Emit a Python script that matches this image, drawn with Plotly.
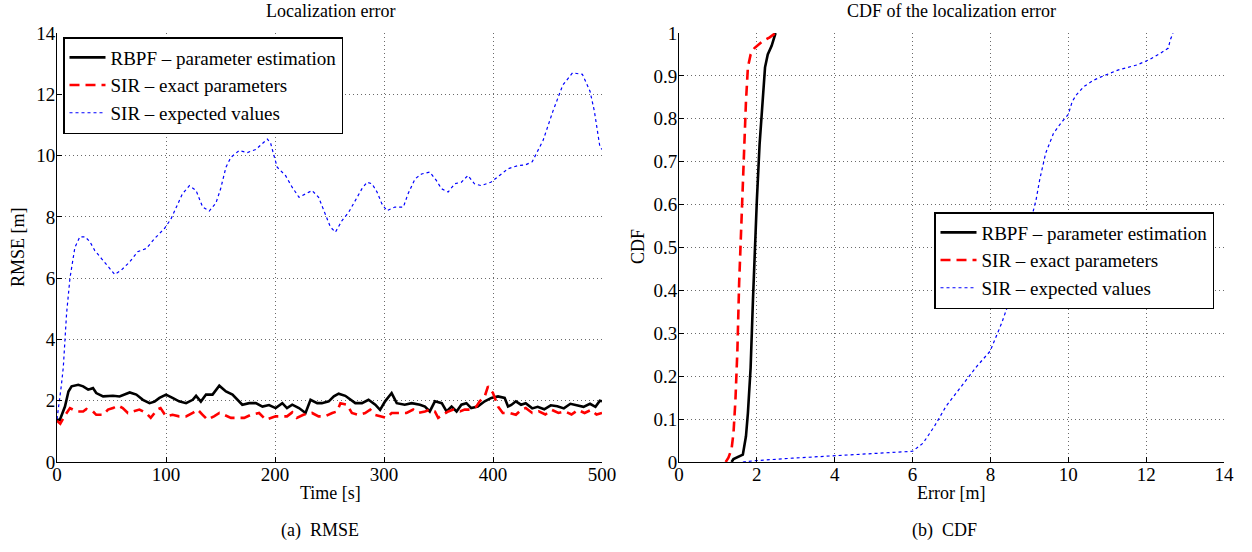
import plotly.graph_objects as go

# ---------------- Data: RMSE over time ----------------
rbpf_t = [0, 2.7, 7.3, 10.5, 13.4, 19.5, 24, 28.6, 33, 36, 42.3, 51.4, 57.4, 66.7, 72.8, 78.8, 84.9, 89.5, 94, 100,
          106, 112, 118.4, 124.5, 127.6, 132, 136.7, 142.7, 148.9, 155, 161, 167, 170, 176.3, 182.4, 188.5, 194.5, 200.6,
          206.7, 211, 215.8, 222, 228, 232.6, 238.7, 243, 249.3, 254, 258.4, 264.5, 269, 273.7, 279.8, 285.8, 292,
          296.4, 301, 307, 311.7, 319, 325.4, 333, 337.6, 342, 346.7, 353, 357.4, 362, 366.6, 371, 375.6, 380, 386,
          392.4, 398.5, 404.6, 410.7, 413.8, 416.8, 421, 425.7, 430, 436, 441, 447, 453, 459, 465, 471, 477, 483, 489,
          494, 498, 500]
rbpf_v = [1.38, 1.38, 1.81, 2.3, 2.47, 2.52, 2.47, 2.36, 2.41, 2.25, 2.14, 2.16, 2.14, 2.27, 2.2, 2.03, 1.92, 1.97, 2.09, 2.2,
          2.09, 1.98, 1.92, 2.03, 2.16, 1.97, 2.2, 2.2, 2.49, 2.3, 2.2, 1.98, 1.87, 1.92, 1.92, 1.81, 1.86, 1.76,
          1.92, 1.76, 1.87, 1.76, 1.6, 2.03, 1.92, 1.92, 1.98, 2.14, 2.23, 2.16, 2.03, 1.92, 1.92, 2.03, 1.87,
          1.7, 1.98, 2.25, 1.92, 1.87, 1.92, 1.87, 1.81, 1.65, 1.98, 1.92, 1.65, 1.81, 1.65, 1.87, 1.92, 1.76, 1.81,
          1.98, 2.09, 2.14, 2.09, 1.81, 1.86, 1.98, 1.87, 1.92, 1.75, 1.8, 1.72, 1.85, 1.82, 1.75, 1.9, 1.85, 1.8, 1.9,
          1.8, 2.0, 1.98]

sir_exact_t = [0, 3, 7, 11.9, 18, 24, 27, 33, 36, 42.3, 46.8, 51.4, 56, 60.3, 65, 69.5, 75.6, 81.7, 86, 92, 95, 100,
               106, 112, 118.4, 124.5, 129, 133.6, 138, 144, 149, 153.4, 159.6, 165.6, 171.7, 177.8, 185.4, 191.5, 196,
               200.6, 206.7, 211, 215.8, 220, 226, 234, 240, 246, 252.5, 257, 260, 266, 270.5, 276.6, 282.7, 287.3,
               291.8, 298, 302.6, 307, 313, 320.7, 326.8, 331.3, 337.6, 342, 346.7, 349.7, 354, 359, 363.6, 369.7, 374,
               378.7, 384.8, 387.8, 392.4, 395.4, 400, 404.6, 409, 415, 421, 426, 430, 436, 442, 448, 454, 460, 466,
               472, 478, 484, 490, 495, 500]
sir_exact_v = [1.35, 1.25, 1.5, 1.76, 1.65, 1.65, 1.73, 1.65, 1.54, 1.54, 1.71, 1.76, 1.84, 1.76, 1.6, 1.65, 1.71, 1.6,
               1.44, 1.71, 1.76, 1.49, 1.54, 1.49, 1.49, 1.6, 1.71, 1.54, 1.38, 1.49, 1.6, 1.54, 1.44, 1.44, 1.44, 1.54,
               1.6, 1.38, 1.44, 1.49, 1.49, 1.49, 1.62, 1.44, 1.54, 1.6, 1.49, 1.49, 1.6, 1.65, 1.92, 1.87, 1.6, 1.54,
               1.6, 1.71, 1.54, 1.49, 1.44, 1.6, 1.6, 1.6, 1.71, 1.6, 1.65, 1.71, 1.65, 1.44, 1.54, 1.65, 1.71, 1.65,
               1.71, 1.71, 1.81, 1.98, 2.14, 2.47, 2.25, 1.81, 1.6, 1.6, 1.54, 1.71, 1.76, 1.6, 1.65, 1.55, 1.7, 1.6,
               1.65, 1.55, 1.7, 1.6, 1.7, 1.55, 1.6]

sir_exp_t = [0, 2, 4, 5.8, 8.8, 11.9, 16.4, 21, 25.6, 30, 34.7, 40.8, 46.8, 53, 59, 66.7, 74, 82, 89.5, 98.6, 104.7,
             109, 115, 121.5, 127.6, 133.6, 139.7, 145.8, 150, 155, 159.5, 167, 174.7, 182.4, 188.5, 193, 196, 199, 202,
             209.6, 215.7, 222, 228, 234, 240, 246, 250.8, 255.4, 261.5, 267.6, 273.7, 279.8, 284.4, 289, 293.6, 298,
             302.6, 310, 317.8, 322, 328.5, 334.5, 342, 348, 352.7, 358.8, 365, 371, 377, 383, 389, 398, 406, 413.7,
             422.8, 430, 436, 446, 455, 464, 473, 482, 489, 493, 498, 500]
sir_exp_v = [1.4, 1.9, 2.5, 3.1, 4.85, 6.0, 7.0, 7.35, 7.35, 7.2, 6.9, 6.64, 6.37, 6.12, 6.26, 6.53, 6.86, 6.97, 7.29,
             7.62, 7.94, 8.27, 8.75, 9.02, 8.86, 8.32, 8.19, 8.45, 8.9, 9.62, 9.94, 10.16, 10.1, 10.2, 10.38, 10.54,
             10.4, 10.05, 9.62, 9.35, 8.97, 8.64, 8.75, 8.86, 8.64, 8.1, 7.67, 7.5, 7.88, 8.15, 8.54, 8.92, 9.13, 9.08,
             8.81, 8.43, 8.2, 8.32, 8.32, 8.75, 9.24, 9.4, 9.46, 9.19, 8.92, 8.81, 9.08, 9.13, 9.35, 9.08, 9.02, 9.13,
             9.35, 9.57, 9.67, 9.7, 9.8, 10.5, 11.45, 12.3, 12.7, 12.65, 12.1, 11.45, 10.3, 10.2]

# ---------------- Data: CDF of the error ----------------
rbpf_cdf_x = [1.35, 1.4, 1.64, 1.72, 1.77, 1.84, 1.9, 1.94, 2.0, 2.07, 2.12, 2.16, 2.21, 2.28, 2.38, 2.48]
rbpf_cdf_y = [0.0, 0.007, 0.017, 0.06, 0.114, 0.22, 0.378, 0.49, 0.61, 0.74, 0.8, 0.85, 0.92, 0.95, 0.97, 1.0]

exact_cdf_x = [1.2, 1.27, 1.35, 1.4, 1.45, 1.5, 1.545, 1.59, 1.62, 1.66, 1.72, 1.77, 1.84, 1.94, 2.14, 2.33, 2.48]
exact_cdf_y = [0.0, 0.01, 0.03, 0.068, 0.145, 0.26, 0.417, 0.533, 0.61, 0.73, 0.84, 0.92, 0.95, 0.965, 0.98, 0.99, 1.0]

exp_cdf_x = [1.64, 1.94, 2.92, 4.0, 4.9, 6.0, 6.27, 6.56, 6.86, 7.25, 7.65, 7.99, 8.19, 8.29, 8.44, 8.63, 8.85, 9.0,
             9.17, 9.27, 9.42, 9.62, 9.81, 10.0, 10.1, 10.2, 10.4, 10.65, 10.9, 11.29, 11.78, 12.08, 12.37, 12.57,
             12.62, 12.69]
exp_cdf_y = [0.0, 0.003, 0.009, 0.015, 0.019, 0.025, 0.044, 0.083, 0.13, 0.176, 0.223, 0.258, 0.3, 0.324, 0.363, 0.41,
             0.48, 0.55, 0.61, 0.66, 0.72, 0.766, 0.79, 0.81, 0.84, 0.855, 0.875, 0.89, 0.9, 0.914, 0.926, 0.938,
             0.953, 0.965, 0.984, 1.0]

names = ["RBPF – parameter estimation", "SIR – exact parameters", "SIR – expected values"]

W, H = 1252, 552
FONT = "Liberation Serif"

def px_x(p):
    return p / W

def px_y(p):
    return 1 - p / H

styles = [dict(color="black", width=2.6, dash="solid"),
          dict(color="#ff0000", width=2.6, dash="10px,6px"),
          dict(color="#0000ff", width=1.2, dash="dot")]

fig = go.Figure()
left = [(rbpf_t, rbpf_v), (sir_exact_t, sir_exact_v), (sir_exp_t, sir_exp_v)]
right = [(rbpf_cdf_x, rbpf_cdf_y), (exact_cdf_x, exact_cdf_y), (exp_cdf_x, exp_cdf_y)]

for (x, y), nm, st in zip(left, names, styles):
    fig.add_trace(go.Scatter(x=x, y=y, mode="lines", name=nm, line=st,
                             xaxis="x", yaxis="y", legend="legend"))
for (x, y), nm, st in zip(right, names, styles):
    fig.add_trace(go.Scatter(x=x, y=y, mode="lines", name=nm, line=st,
                             xaxis="x2", yaxis="y2", legend="legend2"))

axis_common = dict(showline=True, linecolor="black", linewidth=1, ticks="inside", ticklen=5,
                   tickcolor="black", showgrid=True, gridcolor="#6a6a6a", griddash="1px,3px", gridwidth=1,
                   zeroline=False, tickfont=dict(family=FONT, size=19, color="black"), mirror=False,
                   automargin=False)

ydom = [px_y(462), px_y(33)]
fig.update_layout(
    template="none",
    width=W, height=H, autosize=False,
    margin=dict(l=0, r=0, t=0, b=0, pad=0),
    paper_bgcolor="white", plot_bgcolor="white",
    font=dict(family=FONT, size=18, color="black"),
    xaxis=dict(domain=[px_x(57), px_x(602)], range=[0, 500], dtick=100, anchor="y",
               ticklabelstandoff=-5, **axis_common),
    yaxis=dict(domain=ydom, range=[0, 14], dtick=2, anchor="x", ticklabelstandoff=-3, **axis_common),
    xaxis2=dict(domain=[px_x(679), px_x(1224)], range=[0, 14], dtick=2, anchor="y2",
                ticklabelstandoff=-5, **axis_common),
    yaxis2=dict(domain=ydom, range=[0, 1], dtick=0.1, anchor="x2", ticklabelstandoff=-3, **axis_common),
    legend=dict(x=px_x(63), y=px_y(37), xanchor="left", yanchor="top", bgcolor="white",
                bordercolor="black", borderwidth=1.5, font=dict(family=FONT, size=19, color="black"),
                itemwidth=36, tracegroupgap=0),
    legend2=dict(x=px_x(934), y=px_y(212), xanchor="left", yanchor="top", bgcolor="white",
                 bordercolor="black", borderwidth=1.5, font=dict(family=FONT, size=19, color="black"),
                 itemwidth=36, tracegroupgap=0),
    showlegend=True,
)

ann = [
    dict(text="Localization error", x=px_x(330), y=px_y(11)),
    dict(text="CDF of the localization error", x=px_x(951), y=px_y(11)),
    dict(text="Time [s]", x=px_x(330), y=px_y(493)),
    dict(text="Error [m]", x=px_x(951), y=px_y(493)),
    dict(text="RMSE [m]", x=px_x(18), y=px_y(247), textangle=-90),
    dict(text="CDF", x=px_x(638), y=px_y(247), textangle=-90),
    dict(text="(a)\u00a0\u00a0RMSE", x=px_x(320), y=px_y(530)),
    dict(text="(b)\u00a0\u00a0CDF", x=px_x(944), y=px_y(530)),
]
for a in ann:
    fig.add_annotation(xref="paper", yref="paper", showarrow=False, xanchor="center", yanchor="middle",
                       font=dict(family=FONT, size=18, color="black"), **a)

fig.write_html("out.html", config={"displayModeBar": False},
               post_script="document.body.style.margin='0px';")
